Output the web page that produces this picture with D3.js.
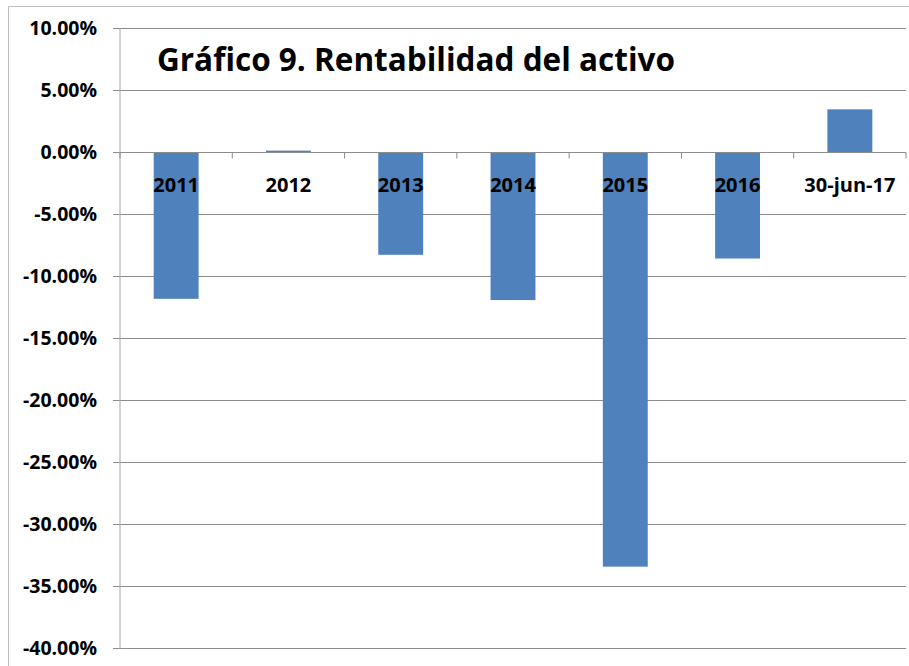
<!DOCTYPE html>
<html>
<head>
<meta charset="utf-8">
<script src="https://cdn.jsdelivr.net/npm/d3@7"></script>
<style>
  body { margin: 0; background: #fff; }
  svg { display: block; font-family: "Open Sans", "Liberation Sans", sans-serif; }
</style>
</head>
<body>
<svg width="909" height="666"></svg>
<script>
const categories = ["2011", "2012", "2013", "2014", "2015", "2016", "30-jun-17"];
const values = [-0.118, 0.0015, -0.0825, -0.119, -0.334, -0.0855, 0.0348];
const yTicks = [0.10, 0.05, 0, -0.05, -0.10, -0.15, -0.20, -0.25, -0.30, -0.35, -0.40];

const svg = d3.select("svg");
const margin = { left: 120, right: 3, top: 28.5, bottom: 17.5 };
const width = 909 - margin.left - margin.right;
const height = 666 - margin.top - margin.bottom;

// outer chart border
svg.append("rect")
  .attr("x", 8.5).attr("y", 6.5)
  .attr("width", 920).attr("height", 680)
  .attr("fill", "none")
  .attr("stroke", "#bfbfbf");

const g = svg.append("g").attr("transform", `translate(${margin.left},${margin.top})`);

const x = d3.scaleBand().domain(categories).range([0, width]).paddingInner(0.6).paddingOuter(0.3);
const y = d3.scaleLinear().domain([-0.40, 0.10]).range([height, 0]);

// gridlines
g.append("g")
  .selectAll("line")
  .data(yTicks)
  .join("line")
  .attr("x1", -7).attr("x2", width)
  .attr("y1", d => y(d)).attr("y2", d => y(d))
  .attr("stroke", "#8c8c8c")
  .attr("stroke-width", 1);

// y axis labels
const yAxis = d3.axisLeft(y).tickValues(yTicks).tickSize(0).tickPadding(23)
  .tickFormat(d => d3.format(".2%")(d).replace("−", "-"));
g.append("g").call(yAxis)
  .call(a => a.select(".domain").remove())
  .selectAll("text")
  .attr("font-size", 19.5)
  .attr("font-weight", "bold")
  .attr("fill", "#000")
  .attr("font-family", "Open Sans, sans-serif");

g.append("line")
  .attr("x1", 0).attr("x2", 0)
  .attr("y1", 0).attr("y2", height)
  .attr("stroke", "#a6a6a6");

// bars
g.append("g")
  .selectAll("rect")
  .data(values)
  .join("rect")
  .attr("x", (d, i) => x(categories[i]))
  .attr("width", x.bandwidth())
  .attr("y", d => y(Math.max(0, d)))
  .attr("height", d => Math.abs(y(d) - y(0)))
  .attr("fill", "#4f81bd");

// category axis at zero
const step = x.step();
const xTickPos = d3.range(categories.length + 1).map(i => i * step);
g.append("g")
  .selectAll("line")
  .data(xTickPos)
  .join("line")
  .attr("x1", d => d).attr("x2", d => d)
  .attr("y1", y(0)).attr("y2", y(0) + 6)
  .attr("stroke", "#8c8c8c");
g.append("line")
  .attr("x1", 0).attr("x2", width)
  .attr("y1", y(0)).attr("y2", y(0))
  .attr("stroke", "#8c8c8c");

g.append("g")
  .selectAll("text")
  .data(categories)
  .join("text")
  .attr("x", d => x(d) + x.bandwidth() / 2)
  .attr("y", y(0) + 39)
  .attr("text-anchor", "middle")
  .attr("font-size", 20)
  .attr("font-weight", "bold")
  .attr("fill", "#000")
  .text(d => d);

// title
svg.append("text")
  .attr("x", 157)
  .attr("y", 71)
  .attr("font-size", 31.5)
  .attr("font-weight", "bold")
  .attr("fill", "#000")
  .text("Gráfico 9. Rentabilidad del activo");
</script>
</body>
</html>
